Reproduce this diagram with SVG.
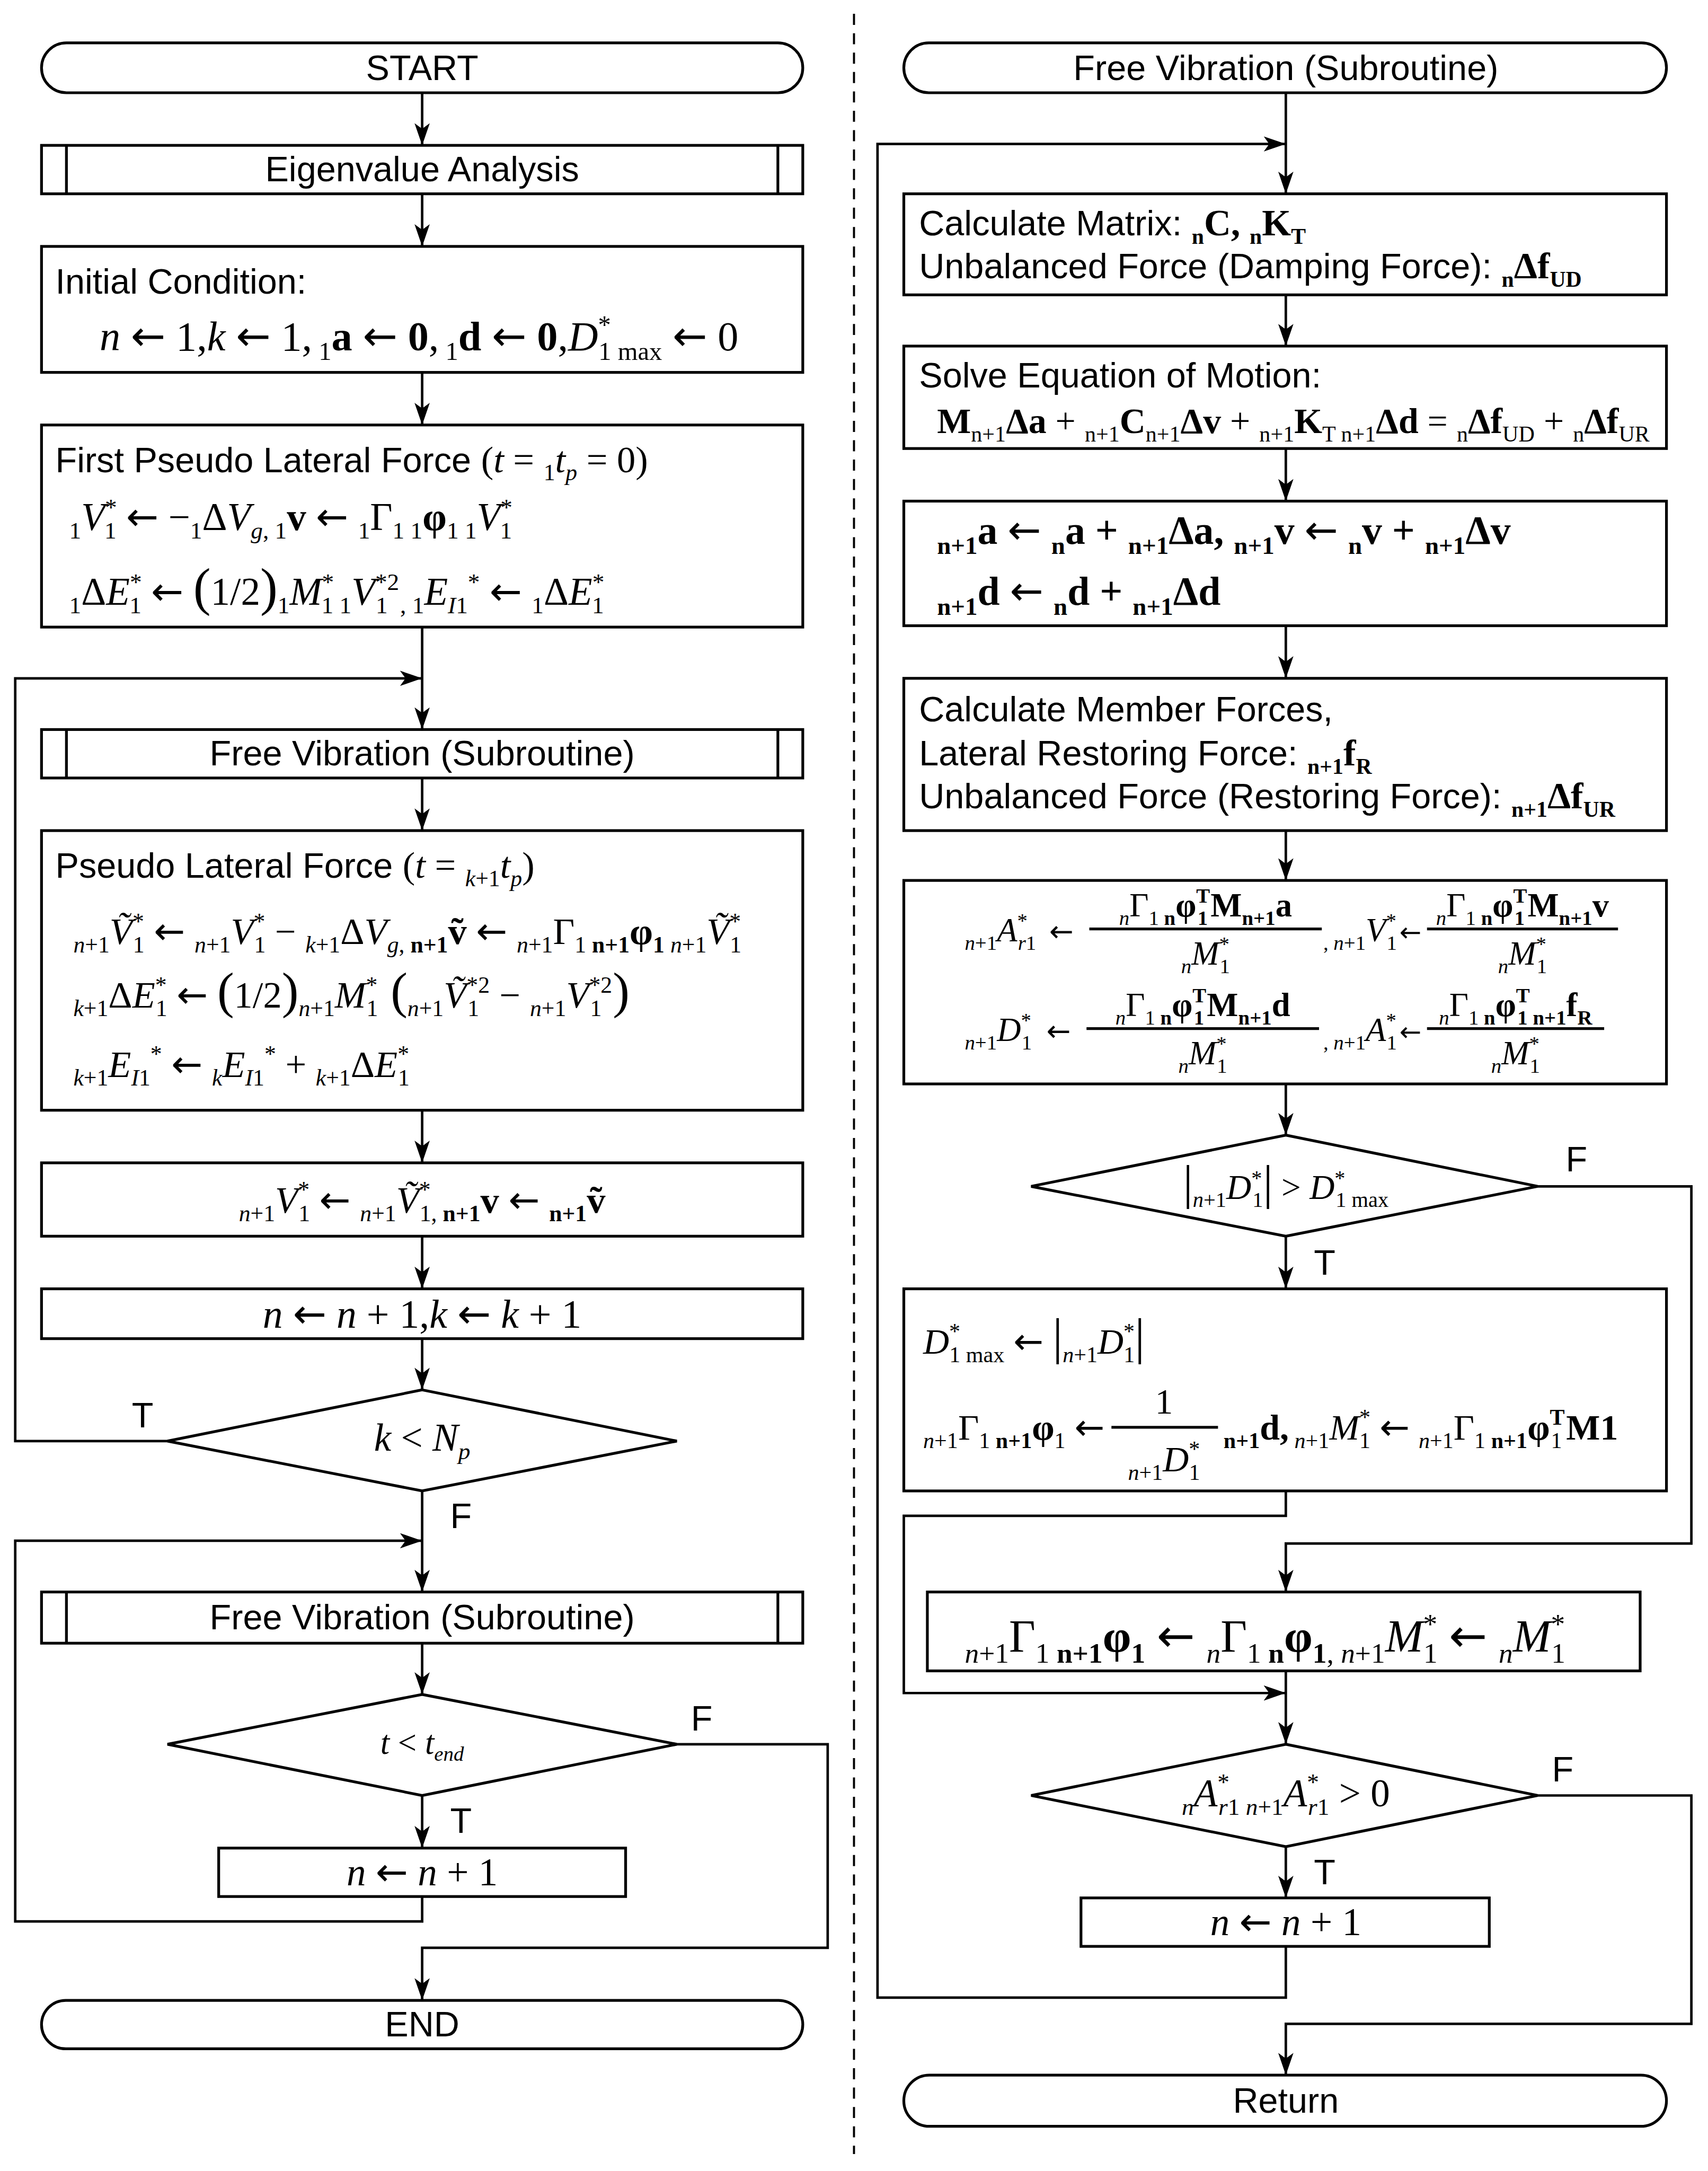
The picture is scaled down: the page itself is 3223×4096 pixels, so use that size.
<svg xmlns="http://www.w3.org/2000/svg" width="3223" height="4096" viewBox="0 0 3223 4096">
<style>
.box{fill:#fff;stroke:#000;stroke-width:2}
.sl{fill:none;stroke:#000;stroke-width:2}
.cn{fill:none;stroke:#000;stroke-width:1.8}
.lb{font-family:"Liberation Sans",Arial,sans-serif;font-size:25.5px}
.m{font-family:"Liberation Serif","Times New Roman",serif}
.i{font-style:italic}
.b{font-weight:bold}
.s{font-size:0.62em}
.bg{font-size:1.35em}
.bar{font-size:1.4em;font-weight:normal}
.ar{font-family:"DejaVu Sans",sans-serif;font-weight:normal;font-style:normal}
</style>
<defs>
<marker id="ah" viewBox="0 0 16 11" refX="16" refY="5.5" markerWidth="16" markerHeight="11" markerUnits="userSpaceOnUse" orient="auto"><path d="M0,0 L16,5.5 L0,11 L4,5.5 z" fill="#000"/></marker>
</defs>
<rect width="3223" height="4096" fill="#fff"/>
<g transform="scale(2.6118)">
<line x1="617" y1="10" x2="617" y2="1556" stroke="#000" stroke-width="1.5" stroke-dasharray="8,6"/>

<g id="connectors">
<path class="cn" d="M305,67 V105" marker-end="url(#ah)"/>
<path class="cn" d="M305,140 V178" marker-end="url(#ah)"/>
<path class="cn" d="M305,269 V307" marker-end="url(#ah)"/>
<path class="cn" d="M305,453 V527" marker-end="url(#ah)"/>
<path class="cn" d="M121,1041 H11 V490 H305" marker-end="url(#ah)"/>
<path class="cn" d="M305,562 V600" marker-end="url(#ah)"/>
<path class="cn" d="M305,802 V840" marker-end="url(#ah)"/>
<path class="cn" d="M305,893 V931" marker-end="url(#ah)"/>
<path class="cn" d="M305,967 V1004" marker-end="url(#ah)"/>
<path class="cn" d="M305,1077 V1150" marker-end="url(#ah)"/>
<path class="cn" d="M305,1370 V1388 H11 V1113 H305" marker-end="url(#ah)"/>
<path class="cn" d="M305,1187 V1224" marker-end="url(#ah)"/>
<path class="cn" d="M305,1297 V1335" marker-end="url(#ah)"/>
<path class="cn" d="M489,1260 H598 V1407 H305 V1445" marker-end="url(#ah)"/>
<path class="cn" d="M929,67 V140" marker-end="url(#ah)"/>
<path class="cn" d="M929,1406 V1443 H634 V104 H929" marker-end="url(#ah)"/>
<path class="cn" d="M929,213 V250" marker-end="url(#ah)"/>
<path class="cn" d="M929,324 V362" marker-end="url(#ah)"/>
<path class="cn" d="M929,452 V490" marker-end="url(#ah)"/>
<path class="cn" d="M929,600 V636" marker-end="url(#ah)"/>
<path class="cn" d="M929,783 V820" marker-end="url(#ah)"/>
<path class="cn" d="M929,893 V931" marker-end="url(#ah)"/>
<path class="cn" d="M1111,857 H1222 V1115 H929 V1150" marker-end="url(#ah)"/>
<path class="cn" d="M929,1077 V1095 H653 V1223 H929" marker-end="url(#ah)"/>
<path class="cn" d="M929,1207 V1260" marker-end="url(#ah)"/>
<path class="cn" d="M929,1334 V1371" marker-end="url(#ah)"/>
<path class="cn" d="M1111,1297 H1222 V1462 H929 V1499" marker-end="url(#ah)"/>
<g class="lb" text-anchor="middle">
<text x="103" y="1031">T</text>
<text x="333" y="1104">F</text>
<text x="507" y="1250">F</text>
<text x="333" y="1324">T</text>
<text x="1139" y="846">F</text>
<text x="957" y="921">T</text>
<text x="1129" y="1287">F</text>
<text x="957" y="1361">T</text>
</g>
</g>

<g id="start">
<rect class="box" x="30" y="31" width="550" height="36" rx="18"/>
<text class="lb" x="305" y="58" text-anchor="middle">START</text>
</g>
<g id="eigen">
<rect class="box" x="30" y="105" width="550" height="35"/>
<path class="sl" d="M48,105 V140 M562,105 V140"/>
<text class="lb" x="305" y="131" text-anchor="middle">Eigenvalue Analysis</text>
</g>
<g id="initial">
<rect class="box" x="30" y="178" width="550" height="91"/>
<text class="lb" x="40" y="212">Initial Condition:</text>
<text class="m" x="72" y="253" font-size="30"><tspan class="i">n</tspan> <tspan class="ar">←</tspan> 1,<tspan class="i">k</tspan> <tspan class="ar">←</tspan> 1,<tspan class="s" dy="7"> 1</tspan><tspan class="b" dy="-7">a</tspan> <tspan class="ar">←</tspan> <tspan class="b">0</tspan>,<tspan class="s" dy="7"> 1</tspan><tspan class="b" dy="-7">d</tspan> <tspan class="ar">←</tspan> <tspan class="b">0</tspan>,<tspan class="i">D</tspan><tspan class="s" dy="-12">*</tspan><tspan class="s" dx="-9" dy="19">1 max</tspan><tspan dy="-7"> <tspan class="ar">←</tspan> 0</tspan></text>
</g>
<g id="first-pseudo">
<rect class="box" x="30" y="307" width="550" height="146"/>
<text x="40" y="341"><tspan class="lb">First Pseudo Lateral Force </tspan><tspan class="m" font-size="27">(<tspan class="i">t</tspan> = <tspan class="s" dy="6">1</tspan><tspan class="i" dy="-6">t</tspan><tspan class="s i" dy="6">p</tspan><tspan dy="-6"> = 0)</tspan></tspan></text>
<text class="m" x="50" y="383" font-size="28"><tspan class="s" dy="6">1</tspan><tspan class="i" dy="-6">V</tspan><tspan class="s" dy="-11">*</tspan><tspan class="s" dx="-9" dy="17">1</tspan><tspan dy="-6"> <tspan class="ar">←</tspan> −</tspan><tspan class="s" dy="6">1</tspan><tspan dy="-6">Δ</tspan><tspan class="i">V</tspan><tspan class="s i" dy="6">g</tspan><tspan class="s">, 1</tspan><tspan class="b" dy="-6">v</tspan><tspan> <tspan class="ar">←</tspan> </tspan><tspan class="s" dy="6">1</tspan><tspan dy="-6">Γ</tspan><tspan class="s" dy="6">1 1</tspan><tspan class="b" dy="-6">φ</tspan><tspan class="s" dy="6">1 1</tspan><tspan class="i" dy="-6">V</tspan><tspan class="s" dy="-11">*</tspan><tspan class="s" dx="-9" dy="17">1</tspan></text>
<text class="m" x="50" y="437" font-size="28"><tspan class="s" dy="6">1</tspan><tspan dy="-6">Δ</tspan><tspan class="i">E</tspan><tspan class="s" dy="-11">*</tspan><tspan class="s" dx="-9" dy="17">1</tspan><tspan dy="-6"> <tspan class="ar">←</tspan> </tspan><tspan class="bg">(</tspan>1/2<tspan class="bg">)</tspan><tspan class="s" dy="6">1</tspan><tspan class="i" dy="-6">M</tspan><tspan class="s" dy="-11">*</tspan><tspan class="s" dx="-9" dy="17">1 1</tspan><tspan class="i" dy="-6">V</tspan><tspan class="s" dy="-11">*2</tspan><tspan class="s" dx="-17" dy="17">1</tspan><tspan class="s" dx="9">, 1</tspan><tspan class="i" dy="-6">E</tspan><tspan class="s i" dy="6">I</tspan><tspan class="s">1</tspan><tspan class="s" dy="-17">*</tspan><tspan dy="11"> <tspan class="ar">←</tspan> </tspan><tspan class="s" dy="6">1</tspan><tspan dy="-6">Δ</tspan><tspan class="i">E</tspan><tspan class="s" dy="-11">*</tspan><tspan class="s" dx="-9" dy="17">1</tspan></text>
</g>
<g id="free-vib-1">
<rect class="box" x="30" y="527" width="550" height="35"/>
<path class="sl" d="M48,527 V562 M562,527 V562"/>
<text class="lb" x="305" y="553" text-anchor="middle">Free Vibration (Subroutine)</text>
</g>
<g id="pseudo">
<rect class="box" x="30" y="600" width="550" height="202"/>
<text x="40" y="634"><tspan class="lb">Pseudo Lateral Force </tspan><tspan class="m" font-size="27">(<tspan class="i">t</tspan> = <tspan class="s i" dy="6">k</tspan><tspan class="s">+1</tspan><tspan class="i" dy="-6">t</tspan><tspan class="s i" dy="6">p</tspan><tspan dy="-6">)</tspan></tspan></text>
<text class="m" x="53" y="682" font-size="27"><tspan class="s i" dy="6">n</tspan><tspan class="s">+1</tspan><tspan class="i" dy="-6">Ṽ</tspan><tspan class="s" dy="-11">*</tspan><tspan class="s" dx="-8" dy="17">1</tspan><tspan dy="-6"> <tspan class="ar">←</tspan> </tspan><tspan class="s i" dy="6">n</tspan><tspan class="s">+1</tspan><tspan class="i" dy="-6">V</tspan><tspan class="s" dy="-11">*</tspan><tspan class="s" dx="-8" dy="17">1</tspan><tspan dy="-6"> − </tspan><tspan class="s i" dy="6">k</tspan><tspan class="s">+1</tspan><tspan dy="-6">Δ</tspan><tspan class="i">V</tspan><tspan class="s i" dy="6">g</tspan><tspan class="s">, </tspan><tspan class="s b">n+1</tspan><tspan class="b" dy="-6">ṽ</tspan><tspan> <tspan class="ar">←</tspan> </tspan><tspan class="s i" dy="6">n</tspan><tspan class="s">+1</tspan><tspan dy="-6">Γ</tspan><tspan class="s" dy="6">1 </tspan><tspan class="s b">n+1</tspan><tspan class="b" dy="-6">φ</tspan><tspan class="s b" dy="6">1 </tspan><tspan class="s i">n</tspan><tspan class="s">+1</tspan><tspan class="i" dy="-6">Ṽ</tspan><tspan class="s" dy="-11">*</tspan><tspan class="s" dx="-8" dy="17">1</tspan></text>
<text class="m" x="53" y="728" font-size="27"><tspan class="s i" dy="6">k</tspan><tspan class="s">+1</tspan><tspan dy="-6">Δ</tspan><tspan class="i">E</tspan><tspan class="s" dy="-11">*</tspan><tspan class="s" dx="-8" dy="17">1</tspan><tspan dy="-6"> <tspan class="ar">←</tspan> </tspan><tspan class="bg">(</tspan>1/2<tspan class="bg">)</tspan><tspan class="s i" dy="6">n</tspan><tspan class="s">+1</tspan><tspan class="i" dy="-6">M</tspan><tspan class="s" dy="-11">*</tspan><tspan class="s" dx="-8" dy="17">1</tspan><tspan class="bg" dy="-6"> (</tspan><tspan class="s i" dy="6">n</tspan><tspan class="s">+1</tspan><tspan class="i" dy="-6">Ṽ</tspan><tspan class="s" dy="-11">*2</tspan><tspan class="s" dx="-16" dy="17">1</tspan><tspan dy="-6" dx="8"> − </tspan><tspan class="s i" dy="6">n</tspan><tspan class="s">+1</tspan><tspan class="i" dy="-6">V</tspan><tspan class="s" dy="-11">*2</tspan><tspan class="s" dx="-16" dy="17">1</tspan><tspan class="bg" dy="-6" dx="8">)</tspan></text>
<text class="m" x="53" y="778" font-size="27"><tspan class="s i" dy="6">k</tspan><tspan class="s">+1</tspan><tspan class="i" dy="-6">E</tspan><tspan class="s i" dy="6">I</tspan><tspan class="s">1</tspan><tspan class="s" dy="-17">*</tspan><tspan dy="11"> <tspan class="ar">←</tspan> </tspan><tspan class="s i" dy="6">k</tspan><tspan class="i" dy="-6">E</tspan><tspan class="s i" dy="6">I</tspan><tspan class="s">1</tspan><tspan class="s" dy="-17">*</tspan><tspan dy="11"> + </tspan><tspan class="s i" dy="6">k</tspan><tspan class="s">+1</tspan><tspan dy="-6">Δ</tspan><tspan class="i">E</tspan><tspan class="s" dy="-11">*</tspan><tspan class="s" dx="-8" dy="17">1</tspan></text>
</g>
<g id="update-v">
<rect class="box" x="30" y="840" width="550" height="53"/>
<text class="m" x="305" y="876" font-size="27" text-anchor="middle"><tspan class="s i" dy="6">n</tspan><tspan class="s">+1</tspan><tspan class="i" dy="-6">V</tspan><tspan class="s" dy="-11">*</tspan><tspan class="s" dx="-8" dy="17">1</tspan><tspan dy="-6"> <tspan class="ar">←</tspan> </tspan><tspan class="s i" dy="6">n</tspan><tspan class="s">+1</tspan><tspan class="i" dy="-6">Ṽ</tspan><tspan class="s" dy="-11">*</tspan><tspan class="s" dx="-8" dy="17">1</tspan><tspan class="s">, </tspan><tspan class="s b">n+1</tspan><tspan class="b" dy="-6">v</tspan><tspan> <tspan class="ar">←</tspan> </tspan><tspan class="s b" dy="6">n+1</tspan><tspan class="b" dy="-6">ṽ</tspan></text>
</g>
<g id="inc-nk">
<rect class="box" x="30" y="931" width="550" height="36"/>
<text class="m" x="305" y="959" font-size="29" text-anchor="middle"><tspan class="i">n</tspan> <tspan class="ar">←</tspan> <tspan class="i">n</tspan> + 1,<tspan class="i">k</tspan> <tspan class="ar">←</tspan> <tspan class="i">k</tspan> + 1</text>
</g>
<g id="dec-k">
<polygon class="box" points="305,1004 489,1041 305,1077 121,1041"/>
<text class="m" x="305" y="1048" font-size="28" text-anchor="middle"><tspan class="i">k</tspan> &lt; <tspan class="i">N</tspan><tspan class="s i" dy="6">p</tspan></text>
</g>
<g id="free-vib-2">
<rect class="box" x="30" y="1150" width="550" height="37"/>
<path class="sl" d="M48,1150 V1187 M562,1150 V1187"/>
<text class="lb" x="305" y="1177" text-anchor="middle">Free Vibration (Subroutine)</text>
</g>
<g id="dec-t">
<polygon class="box" points="305,1224 489,1260 305,1297 121,1260"/>
<text class="m" x="305" y="1267" font-size="24" text-anchor="middle"><tspan class="i">t</tspan> &lt; <tspan class="i">t</tspan><tspan class="s i" dy="5">end</tspan></text>
</g>
<g id="inc-n-left">
<rect class="box" x="158" y="1335" width="294" height="35"/>
<text class="m" x="305" y="1362" font-size="28" text-anchor="middle"><tspan class="i">n</tspan> <tspan class="ar">←</tspan> <tspan class="i">n</tspan> + 1</text>
</g>
<g id="end">
<rect class="box" x="30" y="1445" width="550" height="35" rx="17.5"/>
<text class="lb" x="305" y="1471" text-anchor="middle">END</text>
</g>

<g id="sub-start">
<rect class="box" x="653" y="31" width="551" height="36" rx="18"/>
<text class="lb" x="929" y="58" text-anchor="middle">Free Vibration (Subroutine)</text>
</g>
<g id="calc-matrix">
<rect class="box" x="653" y="140" width="551" height="73"/>
<text x="664" y="170"><tspan class="lb">Calculate Matrix: </tspan><tspan class="m b" font-size="16" dy="6">n</tspan><tspan class="m b" font-size="27" dy="-6">C, </tspan><tspan class="m b" font-size="16" dy="6">n</tspan><tspan class="m b" font-size="27" dy="-6">K</tspan><tspan class="m b" font-size="16" dy="6">T</tspan></text>
<text x="664" y="201"><tspan class="lb">Unbalanced Force (Damping Force): </tspan><tspan class="m b" font-size="16" dy="6">n</tspan><tspan class="m b" font-size="27" dy="-6">Δf</tspan><tspan class="m b" font-size="16" dy="6">UD</tspan></text>
</g>
<g id="solve">
<rect class="box" x="653" y="250" width="551" height="74"/>
<text class="lb" x="664" y="280">Solve Equation of Motion:</text>
<text class="m" x="677" y="313" font-size="26"><tspan class="b">M</tspan><tspan class="s" dy="6">n+1</tspan><tspan class="b" dy="-6">Δa</tspan> + <tspan class="s" dy="6">n+1</tspan><tspan class="b" dy="-6">C</tspan><tspan class="s" dy="6">n+1</tspan><tspan class="b" dy="-6">Δv</tspan> + <tspan class="s" dy="6">n+1</tspan><tspan class="b" dy="-6">K</tspan><tspan class="s" dy="6">T n+1</tspan><tspan class="b" dy="-6">Δd</tspan> = <tspan class="s" dy="6">n</tspan><tspan class="b" dy="-6">Δf</tspan><tspan class="s" dy="6">UD</tspan><tspan dy="-6"> + </tspan><tspan class="s" dy="6">n</tspan><tspan class="b" dy="-6">Δf</tspan><tspan class="s" dy="6">UR</tspan></text>
</g>
<g id="update-avd">
<rect class="box" x="653" y="362" width="551" height="90"/>
<text class="m b" x="677" y="393" font-size="29"><tspan class="s" dy="7">n+1</tspan><tspan dy="-7">a <tspan class="ar">←</tspan> </tspan><tspan class="s" dy="7">n</tspan><tspan dy="-7">a + </tspan><tspan class="s" dy="7">n+1</tspan><tspan dy="-7">Δa, </tspan><tspan class="s" dy="7">n+1</tspan><tspan dy="-7">v <tspan class="ar">←</tspan> </tspan><tspan class="s" dy="7">n</tspan><tspan dy="-7">v + </tspan><tspan class="s" dy="7">n+1</tspan><tspan dy="-7">Δv</tspan></text>
<text class="m b" x="677" y="437" font-size="29"><tspan class="s" dy="7">n+1</tspan><tspan dy="-7">d <tspan class="ar">←</tspan> </tspan><tspan class="s" dy="7">n</tspan><tspan dy="-7">d + </tspan><tspan class="s" dy="7">n+1</tspan><tspan dy="-7">Δd</tspan></text>
</g>
<g id="member-forces">
<rect class="box" x="653" y="490" width="551" height="110"/>
<text class="lb" x="664" y="521">Calculate Member Forces,</text>
<text x="664" y="553"><tspan class="lb">Lateral Restoring Force: </tspan><tspan class="m b" font-size="16" dy="6">n+1</tspan><tspan class="m b" font-size="27" dy="-6">f</tspan><tspan class="m b" font-size="16" dy="6">R</tspan></text>
<text x="664" y="584"><tspan class="lb">Unbalanced Force (Restoring Force): </tspan><tspan class="m b" font-size="16" dy="6">n+1</tspan><tspan class="m b" font-size="27" dy="-6">Δf</tspan><tspan class="m b" font-size="16" dy="6">UR</tspan></text>
</g>
<g id="modal-response">
<rect class="box" x="653" y="636" width="551" height="147"/>
<g class="m" font-size="24">
<text x="697" y="680"><tspan class="s i" dy="6">n</tspan><tspan class="s">+1</tspan><tspan class="i" dy="-6">A</tspan><tspan class="s" dy="-10">*</tspan><tspan class="s i" dx="-7" dy="16">r</tspan><tspan class="s">1</tspan></text>
<text class="ar" x="758" y="680" font-size="21">←</text>
<line x1="787" y1="671" x2="955" y2="671" stroke="#000" stroke-width="2"/>
<text x="871" y="662" text-anchor="middle"><tspan class="s i" dy="6">n</tspan><tspan dy="-6">Γ</tspan><tspan class="s" dy="6">1 </tspan><tspan class="s b">n</tspan><tspan class="b" dy="-6">φ</tspan><tspan class="s b" dy="-10">T</tspan><tspan class="s b" dx="-9" dy="16">1</tspan><tspan class="b" dx="2" dy="-6">M</tspan><tspan class="s b" dy="6">n+1</tspan><tspan class="b" dy="-6">a</tspan></text>
<text x="871" y="697" text-anchor="middle"><tspan class="s i" dy="6">n</tspan><tspan class="i" dy="-6">M</tspan><tspan class="s" dy="-10">*</tspan><tspan class="s" dx="-7" dy="16">1</tspan></text>
<text x="956" y="686"><tspan class="s">,</tspan><tspan class="s i"> n</tspan><tspan class="s">+1</tspan><tspan class="i" dy="-6">V</tspan><tspan class="s" dy="-10">*</tspan><tspan class="s" dx="-7" dy="16">1</tspan></text>
<text class="ar" x="1011" y="680" font-size="19">←</text>
<line x1="1031" y1="671" x2="1169" y2="671" stroke="#000" stroke-width="2"/>
<text x="1100" y="662" text-anchor="middle"><tspan class="s i" dy="6">n</tspan><tspan dy="-6">Γ</tspan><tspan class="s" dy="6">1 </tspan><tspan class="s b">n</tspan><tspan class="b" dy="-6">φ</tspan><tspan class="s b" dy="-10">T</tspan><tspan class="s b" dx="-9" dy="16">1</tspan><tspan class="b" dx="2" dy="-6">M</tspan><tspan class="s b" dy="6">n+1</tspan><tspan class="b" dy="-6">v</tspan></text>
<text x="1100" y="697" text-anchor="middle"><tspan class="s i" dy="6">n</tspan><tspan class="i" dy="-6">M</tspan><tspan class="s" dy="-10">*</tspan><tspan class="s" dx="-7" dy="16">1</tspan></text>
<text x="697" y="752"><tspan class="s i" dy="6">n</tspan><tspan class="s">+1</tspan><tspan class="i" dy="-6">D</tspan><tspan class="s" dy="-10">*</tspan><tspan class="s" dx="-7" dy="16">1</tspan></text>
<text class="ar" x="756" y="752" font-size="21">←</text>
<line x1="785" y1="743" x2="953" y2="743" stroke="#000" stroke-width="2"/>
<text x="869" y="734" text-anchor="middle"><tspan class="s i" dy="6">n</tspan><tspan dy="-6">Γ</tspan><tspan class="s" dy="6">1 </tspan><tspan class="s b">n</tspan><tspan class="b" dy="-6">φ</tspan><tspan class="s b" dy="-10">T</tspan><tspan class="s b" dx="-9" dy="16">1</tspan><tspan class="b" dx="2" dy="-6">M</tspan><tspan class="s b" dy="6">n+1</tspan><tspan class="b" dy="-6">d</tspan></text>
<text x="869" y="769" text-anchor="middle"><tspan class="s i" dy="6">n</tspan><tspan class="i" dy="-6">M</tspan><tspan class="s" dy="-10">*</tspan><tspan class="s" dx="-7" dy="16">1</tspan></text>
<text x="956" y="758"><tspan class="s">,</tspan><tspan class="s i"> n</tspan><tspan class="s">+1</tspan><tspan class="i" dy="-6">A</tspan><tspan class="s" dy="-10">*</tspan><tspan class="s" dx="-7" dy="16">1</tspan></text>
<text class="ar" x="1011" y="752" font-size="19">←</text>
<line x1="1031" y1="743" x2="1159" y2="743" stroke="#000" stroke-width="2"/>
<text x="1095" y="734" text-anchor="middle"><tspan class="s i" dy="6">n</tspan><tspan dy="-6">Γ</tspan><tspan class="s" dy="6">1 </tspan><tspan class="s b">n</tspan><tspan class="b" dy="-6">φ</tspan><tspan class="s b" dy="-10">T</tspan><tspan class="s b" dx="-9" dy="16">1 n+1</tspan><tspan class="b" dy="-6">f</tspan><tspan class="s b" dy="6">R</tspan></text>
<text x="1095" y="769" text-anchor="middle"><tspan class="s i" dy="6">n</tspan><tspan class="i" dy="-6">M</tspan><tspan class="s" dy="-10">*</tspan><tspan class="s" dx="-7" dy="16">1</tspan></text>
</g>
</g>
<g id="dec-dmax">
<polygon class="box" points="929,820 1111,857 929,893 745,857"/>
<text class="m" x="929" y="866" font-size="25" text-anchor="middle"><tspan class="bar">|</tspan><tspan class="s i" dy="6">n</tspan><tspan class="s">+1</tspan><tspan class="i" dy="-6">D</tspan><tspan class="s" dy="-10">*</tspan><tspan class="s" dx="-7" dy="16">1</tspan><tspan class="bar" dy="-6">|</tspan> &gt; <tspan class="i">D</tspan><tspan class="s" dy="-10">*</tspan><tspan class="s" dx="-7" dy="16">1 max</tspan></text>
</g>
<g id="update-dmax">
<rect class="box" x="653" y="931" width="551" height="146"/>
<g class="m" font-size="26">
<text x="667" y="978"><tspan class="i">D</tspan><tspan class="s" dy="-11">*</tspan><tspan class="s" dx="-8" dy="17">1 max</tspan><tspan dy="-6"> <tspan class="ar">←</tspan> </tspan><tspan class="bar">|</tspan><tspan class="s i" dy="6">n</tspan><tspan class="s">+1</tspan><tspan class="i" dy="-6">D</tspan><tspan class="s" dy="-11">*</tspan><tspan class="s" dx="-8" dy="17">1</tspan><tspan class="bar" dy="-6">|</tspan></text>
<text x="667" y="1040"><tspan class="s i" dy="6">n</tspan><tspan class="s">+1</tspan><tspan dy="-6">Γ</tspan><tspan class="s" dy="6">1 </tspan><tspan class="s b">n+1</tspan><tspan class="b" dy="-6">φ</tspan><tspan class="s" dy="6">1</tspan><tspan dy="-6"> <tspan class="ar">←</tspan></tspan></text>
<line x1="803" y1="1031" x2="880" y2="1031" stroke="#000" stroke-width="2"/>
<text x="841" y="1021" text-anchor="middle">1</text>
<text x="841" y="1063" text-anchor="middle"><tspan class="s i" dy="6">n</tspan><tspan class="s">+1</tspan><tspan class="i" dy="-6">D</tspan><tspan class="s" dy="-11">*</tspan><tspan class="s" dx="-8" dy="17">1</tspan></text>
<text x="884" y="1040"><tspan class="s b" dy="6">n+1</tspan><tspan class="b" dy="-6">d,</tspan><tspan class="s i" dy="6"> n</tspan><tspan class="s">+1</tspan><tspan class="i" dy="-6">M</tspan><tspan class="s" dy="-11">*</tspan><tspan class="s" dx="-8" dy="17">1</tspan><tspan dy="-6"> <tspan class="ar">←</tspan> </tspan><tspan class="s i" dy="6">n</tspan><tspan class="s">+1</tspan><tspan dy="-6">Γ</tspan><tspan class="s" dy="6">1 </tspan><tspan class="s b">n+1</tspan><tspan class="b" dy="-6">φ</tspan><tspan class="s b" dy="-11">T</tspan><tspan class="s" dx="-10" dy="17">1</tspan><tspan class="b" dy="-6" dx="3">M1</tspan></text>
</g>
</g>
<g id="keep-mode">
<rect class="box" x="670" y="1150" width="515" height="57"/>
<text class="m" x="697" y="1193" font-size="33"><tspan class="s i" dy="8">n</tspan><tspan class="s">+1</tspan><tspan dy="-8">Γ</tspan><tspan class="s" dy="8">1 </tspan><tspan class="s b">n+1</tspan><tspan class="b" dy="-8">φ</tspan><tspan class="s b" dy="8">1</tspan><tspan dy="-8"> <tspan class="ar">←</tspan> </tspan><tspan class="s i" dy="8">n</tspan><tspan dy="-8">Γ</tspan><tspan class="s" dy="8">1 </tspan><tspan class="s b">n</tspan><tspan class="b" dy="-8">φ</tspan><tspan class="s b" dy="8">1</tspan><tspan class="s">, </tspan><tspan class="s i">n</tspan><tspan class="s">+1</tspan><tspan class="i" dy="-8">M</tspan><tspan class="s" dy="-13">*</tspan><tspan class="s" dx="-10" dy="21">1</tspan><tspan dy="-8"> <tspan class="ar">←</tspan> </tspan><tspan class="s i" dy="8">n</tspan><tspan class="i" dy="-8">M</tspan><tspan class="s" dy="-13">*</tspan><tspan class="s" dx="-10" dy="21">1</tspan></text>
</g>
<g id="dec-sign">
<polygon class="box" points="929,1260 1111,1297 929,1334 745,1297"/>
<text class="m" x="929" y="1305" font-size="28" text-anchor="middle"><tspan class="s i" dy="6">n</tspan><tspan class="i" dy="-6">A</tspan><tspan class="s" dy="-12">*</tspan><tspan class="s i" dx="-8" dy="18">r</tspan><tspan class="s">1 </tspan><tspan class="s i">n</tspan><tspan class="s">+1</tspan><tspan class="i" dy="-6">A</tspan><tspan class="s" dy="-12">*</tspan><tspan class="s i" dx="-8" dy="18">r</tspan><tspan class="s">1</tspan><tspan dy="-6"> &gt; 0</tspan></text>
</g>
<g id="inc-n-right">
<rect class="box" x="781" y="1371" width="295" height="35"/>
<text class="m" x="929" y="1398" font-size="28" text-anchor="middle"><tspan class="i">n</tspan> <tspan class="ar">←</tspan> <tspan class="i">n</tspan> + 1</text>
</g>
<g id="return">
<rect class="box" x="653" y="1499" width="551" height="37" rx="18.5"/>
<text class="lb" x="929" y="1526" text-anchor="middle">Return</text>
</g>
</g>
</svg>
